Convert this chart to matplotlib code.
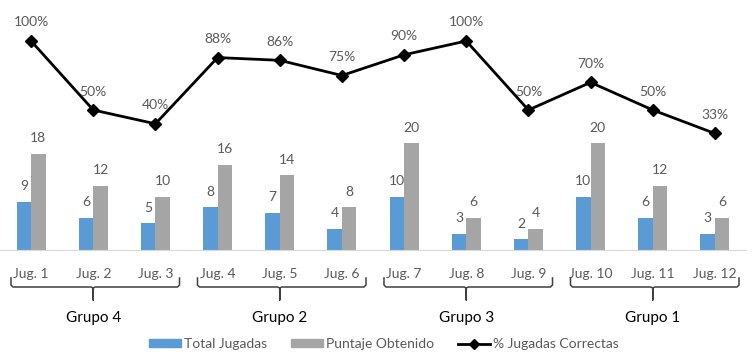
import matplotlib
matplotlib.use("Agg")
import matplotlib.pyplot as plt
from matplotlib.transforms import blended_transform_factory
from matplotlib.lines import Line2D
from matplotlib.patches import Patch
import numpy as np

categories = ["Jug. 1", "Jug. 2", "Jug. 3", "Jug. 4", "Jug. 5", "Jug. 6",
              "Jug. 7", "Jug. 8", "Jug. 9", "Jug. 10", "Jug. 11", "Jug. 12"]
total_jugadas = [9, 6, 5, 8, 7, 4, 10, 3, 2, 10, 6, 3]
puntaje = [18, 12, 10, 16, 14, 8, 20, 6, 4, 20, 12, 6]
pct_correctas = [100, 50, 40, 88, 86, 75, 90, 100, 50, 70, 50, 33]
groups = ["Grupo 4", "Grupo 2", "Grupo 3", "Grupo 1"]
group_sizes = [3, 3, 3, 3]

FONT = ["Lato", "DejaVu Sans"]
plt.rcParams["font.family"] = FONT
TXT = "#595959"
BLUE = "#5b9bd5"
GRAY = "#a5a5a5"

W, H = 753, 361
fig = plt.figure(figsize=(W / 100, H / 100), dpi=100)
ax_left, ax_right = 0 / W, 746 / W
ax_bot, ax_top = 1 - 250 / H, 1 - 10 / H
ax = fig.add_axes([ax_left, ax_bot, ax_right - ax_left, ax_top - ax_bot])
ax2 = ax.twinx()

x = np.arange(len(categories))
bw = 0.233
ax.bar(x - bw / 2, total_jugadas, bw, color=BLUE, zorder=2)
ax.bar(x + bw / 2, puntaje, bw, color=GRAY, zorder=2)
ax.set_xlim(-0.5, len(categories) - 0.5)
ax.set_ylim(0, 240 / 5.33)

for xi, v in zip(x, total_jugadas):
    ax.annotate(str(v), (xi - bw / 2, v), xytext=(0, 7), textcoords="offset points",
                ha="center", va="bottom", fontsize=10, color=TXT)
for xi, v in zip(x, puntaje):
    ax.annotate(str(v), (xi + bw / 2, v), xytext=(0, 7), textcoords="offset points",
                ha="center", va="bottom", fontsize=10, color=TXT)

ax2.plot(x, pct_correctas, color="black", lw=2, marker="D", markersize=6, zorder=3)
ax2.set_ylim((179 - 250) / 1.38, (179 - 10) / 1.38)
for xi, v in zip(x, pct_correctas):
    ax2.annotate(f"{v}%", (xi, v), xytext=(0, 9), textcoords="offset points",
                 ha="center", va="bottom", fontsize=10, color=TXT)

for a in (ax, ax2):
    for s in a.spines.values():
        s.set_visible(False)
    a.set_yticks([])
ax.spines["bottom"].set_visible(True)
ax.spines["bottom"].set_color("#d9d9d9")
ax.set_xticks(x)
ax.set_xticklabels(categories, fontsize=10, color=TXT)
ax.tick_params(axis="x", length=0, pad=13)

# group braces
tr = blended_transform_factory(ax.transData, fig.transFigure)
def fy(py):
    return 1 - py / H
px = 1 / 62.27
start = 0
for g, n in zip(groups, group_sizes):
    x0 = start - 0.5 + 11 * px
    x1 = start + n - 0.5 - 7 * px
    xc = start - 0.5 + n / 2
    r = 2 * px
    bx = [x0, x0, x0 + r, xc - r, xc, xc, xc, xc + r, x1 - r, x1, x1]
    by = [278, 285, 287, 287, 288, 300, 288, 287, 287, 285, 278]
    fig.add_artist(Line2D(bx, [fy(v) for v in by], transform=tr, color="#404040", lw=1.1))
    fig.text(xc, fy(318), g, transform=tr, fontsize=11, color="black", ha="center", va="center")
    start += n

handles = [Patch(color=BLUE), Patch(color=GRAY),
           Line2D([], [], color="black", lw=2, marker="D", markersize=5)]
labels = ["Total Jugadas", "Puntaje Obtenido", "% Jugadas Correctas"]
leg = fig.legend(handles, labels, loc="center", bbox_to_anchor=(384 / W, 1 - 344 / H),
                 ncol=3, frameon=False, fontsize=10, handlelength=2.3, handleheight=0.45,
                 handletextpad=0.25, columnspacing=1.7)
for t in leg.get_texts():
    t.set_color(TXT)

fig.savefig("out.png", dpi=100)
